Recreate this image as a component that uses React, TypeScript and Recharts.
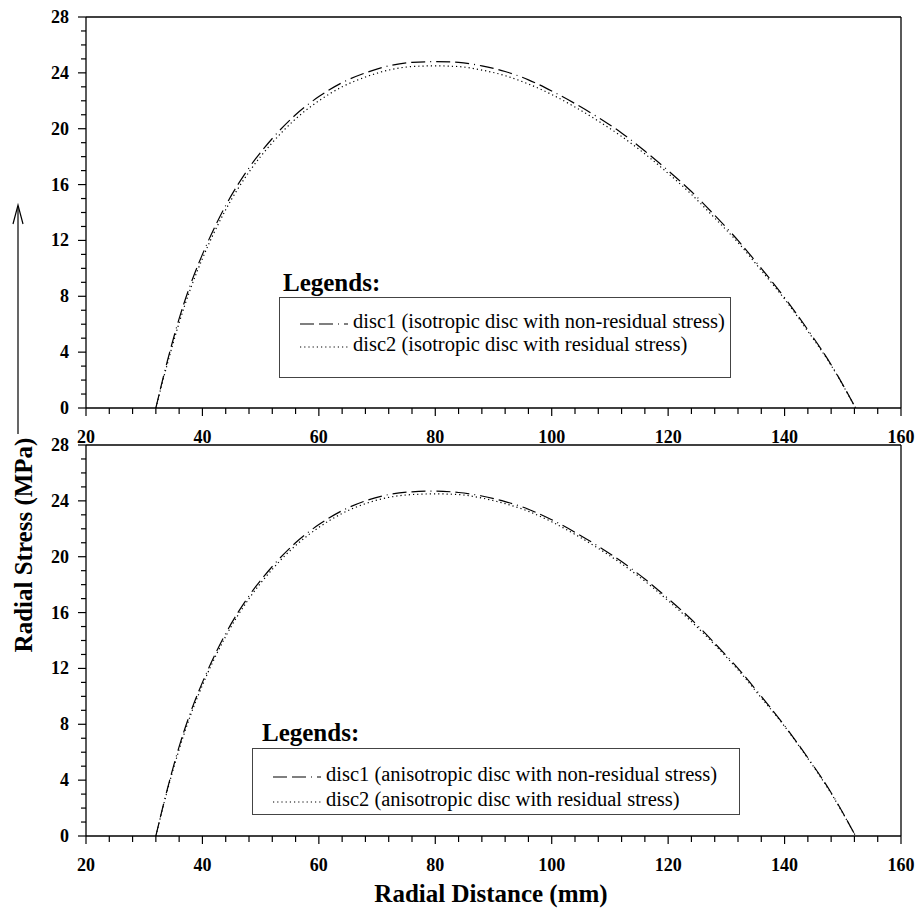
import React from "react";
import { LineChart, Line, XAxis, YAxis, ReferenceLine } from "recharts";

// radial distance (mm) shared by all four curves
const radius = [32, 34, 36, 38, 40, 44, 48, 52, 56, 60, 64, 68, 72, 76, 80, 84, 88, 92, 96, 100, 104, 108, 112, 116, 120, 124, 128, 132, 136, 140, 144, 148, 152.2];

// isotropic disc (top panel)
const disc1Iso = [0, 3.4, 6.4, 8.9, 11.0, 14.5, 17.2, 19.3, 21.0, 22.3, 23.3, 24.0, 24.5, 24.75, 24.8, 24.75, 24.5, 24.1, 23.5, 22.7, 21.8, 20.8, 19.7, 18.4, 17.0, 15.5, 13.8, 12.0, 10.0, 7.9, 5.6, 3.1, 0];
const disc2Iso = [0, 3.2, 6.1, 8.6, 10.7, 14.2, 16.9, 19.0, 20.7, 22.0, 23.0, 23.7, 24.2, 24.45, 24.5, 24.45, 24.2, 23.8, 23.2, 22.45, 21.55, 20.55, 19.45, 18.2, 16.8, 15.3, 13.6, 11.85, 9.85, 7.8, 5.5, 3.05, 0];

// anisotropic disc (bottom panel)
const disc1Aniso = [0, 3.4, 6.4, 8.9, 11.0, 14.5, 17.2, 19.3, 21.0, 22.3, 23.3, 24.0, 24.45, 24.65, 24.7, 24.6, 24.35, 23.95, 23.4, 22.65, 21.75, 20.75, 19.65, 18.4, 17.0, 15.5, 13.8, 12.0, 10.0, 7.9, 5.6, 3.1, 0];
const disc2Aniso = [0, 3.3, 6.2, 8.7, 10.8, 14.3, 17.0, 19.1, 20.8, 22.1, 23.1, 23.8, 24.25, 24.45, 24.5, 24.45, 24.2, 23.8, 23.25, 22.5, 21.6, 20.6, 19.5, 18.25, 16.85, 15.35, 13.7, 11.9, 9.9, 7.85, 5.55, 3.05, 0];

const xTicks = [20, 24, 28, 32, 36, 40, 44, 48, 52, 56, 60, 64, 68, 72, 76, 80, 84, 88, 92, 96, 100, 104, 108, 112, 116, 120, 124, 128, 132, 136, 140, 144, 148, 152, 156, 160];
const xLabels = [20, 40, 60, 80, 100, 120, 140, 160];
const yTicks = [0, 1, 2, 3, 4, 5, 6, 7, 8, 9, 10, 11, 12, 13, 14, 15, 16, 17, 18, 19, 20, 21, 22, 23, 24, 25, 26, 27, 28];
const yLabels = [0, 4, 8, 12, 16, 20, 24, 28];

const isoLegend = ["disc1 (isotropic disc with non-residual stress)", "disc2 (isotropic disc with residual stress)"];
const anisoLegend = ["disc1 (anisotropic disc with non-residual stress)", "disc2 (anisotropic disc with residual stress)"];

const FONT = '"Liberation Serif", "Times New Roman", serif';
const DASH1 = "14 5 14 5 1 5";
const DASH2 = "1.2 3";

const XTick = (props: any) => {
  const { x, y, payload } = props;
  const major = xLabels.includes(payload.value);
  return (
    <g>
      <line x1={x} x2={x} y1={y} y2={y + (major ? 8 : 6)} stroke="#000" strokeWidth={1.2} />
      {major && (
        <text x={x} y={y + 35} textAnchor="middle" fontFamily={FONT} fontWeight="bold" fontSize={18} fill="#000">
          {payload.value}
        </text>
      )}
    </g>
  );
};

const YTick = (props: any) => {
  const { x, y, payload } = props;
  const major = yLabels.includes(payload.value);
  return (
    <g>
      <line x1={x - (major ? 8 : 5)} x2={x} y1={y} y2={y} stroke="#000" strokeWidth={1.2} />
      {major && (
        <text x={x - 17} y={y + 6} textAnchor="end" fontFamily={FONT} fontWeight="bold" fontSize={18} fill="#000">
          {payload.value}
        </text>
      )}
    </g>
  );
};

function Panel({ d1, d2, top }: { d1: number[]; d2: number[]; top: number }) {
  const data = radius.map((r, i) => ({ r, d1: d1[i], d2: d2[i] }));
  return (
    <div style={{ position: "absolute", left: 0, top }}>
      <LineChart width={915} height={450} data={data} margin={{ top: 17, right: 14, bottom: 2, left: 26 }}>
        <XAxis
          dataKey="r"
          type="number"
          domain={[20, 160]}
          ticks={xTicks}
          interval={0}
          height={40}
          tickSize={0}
          tickMargin={0}
          tickLine={false}
          tick={<XTick />}
          axisLine={{ stroke: "#000", strokeWidth: 1.3 }}
          allowDataOverflow
        />
        <YAxis
          type="number"
          domain={[0, 28]}
          ticks={yTicks}
          interval={0}
          width={60}
          tickSize={0}
          tickMargin={0}
          tickLine={false}
          tick={<YTick />}
          axisLine={{ stroke: "#000", strokeWidth: 1.3 }}
          allowDataOverflow
        />
        <ReferenceLine y={28} stroke="#000" strokeWidth={1.3} />
        <ReferenceLine x={160} stroke="#000" strokeWidth={1.3} />
        <Line type="monotone" dataKey="d1" stroke="#000" strokeWidth={1.2} strokeDasharray={DASH1} dot={false} isAnimationActive={false} />
        <Line type="monotone" dataKey="d2" stroke="#000" strokeWidth={1.2} strokeDasharray={DASH2} dot={false} isAnimationActive={false} />
      </LineChart>
    </div>
  );
}

function LegendBlock(props: {
  labels: string[];
  titleLeft: number;
  titleTop: number;
  left: number;
  top: number;
  width: number;
  height: number;
  rowTops: number[];
}) {
  const { labels, titleLeft, titleTop, left, top, width, height, rowTops } = props;
  const dashes = [DASH1, DASH2];
  return (
    <>
      <div style={{ position: "absolute", left: titleLeft, top: titleTop, fontFamily: FONT, fontWeight: "bold", fontSize: 25, lineHeight: "25px" }}>
        Legends:
      </div>
      <div style={{ position: "absolute", left, top, width, height, border: "1px solid #444", boxSizing: "border-box" }}>
        {labels.map((lab, i) => (
          <div key={lab} style={{ position: "absolute", left: 20, top: rowTops[i], display: "flex", alignItems: "center", whiteSpace: "nowrap" }}>
            <svg width={48} height={20} style={{ marginRight: 5 }}>
              <line x1={0} x2={48} y1={13} y2={13} stroke="#000" strokeWidth={1.2} strokeDasharray={dashes[i]} />
            </svg>
            <span style={{ fontFamily: FONT, fontSize: 20.5, lineHeight: "22px" }}>{lab}</span>
          </div>
        ))}
      </div>
    </>
  );
}

export default function App() {
  return (
    <div style={{ position: "absolute", left: 0, top: 0, width: 915, height: 909, background: "#fff" }}>
      <Panel d1={disc1Iso} d2={disc2Iso} top={0} />
      <Panel d1={disc1Aniso} d2={disc2Aniso} top={428} />
      <LegendBlock labels={isoLegend} titleLeft={283} titleTop={270} left={279} top={297} width={452} height={81} rowTops={[12, 35]} />
      <LegendBlock labels={anisoLegend} titleLeft={262} titleTop={720} left={252} top={748} width={488} height={67} rowTops={[14, 39]} />
      <svg width={915} height={909} style={{ position: "absolute", left: 0, top: 0, pointerEvents: "none" }}>
        <line x1={18} x2={18} y1={434} y2={206} stroke="#000" strokeWidth={1.2} />
        <polyline points="13,224 18,205 23,224" fill="none" stroke="#000" strokeWidth={1.2} />
        <text
          x={0}
          y={0}
          transform="translate(32,545) rotate(-90)"
          textAnchor="middle"
          fontFamily={FONT}
          fontWeight="bold"
          fontSize={25}
          fill="#000"
        >
          Radial Stress (MPa)
        </text>
        <text x={491} y={902} textAnchor="middle" fontFamily={FONT} fontWeight="bold" fontSize={25} fill="#000">
          Radial Distance (mm)
        </text>
      </svg>
    </div>
  );
}
